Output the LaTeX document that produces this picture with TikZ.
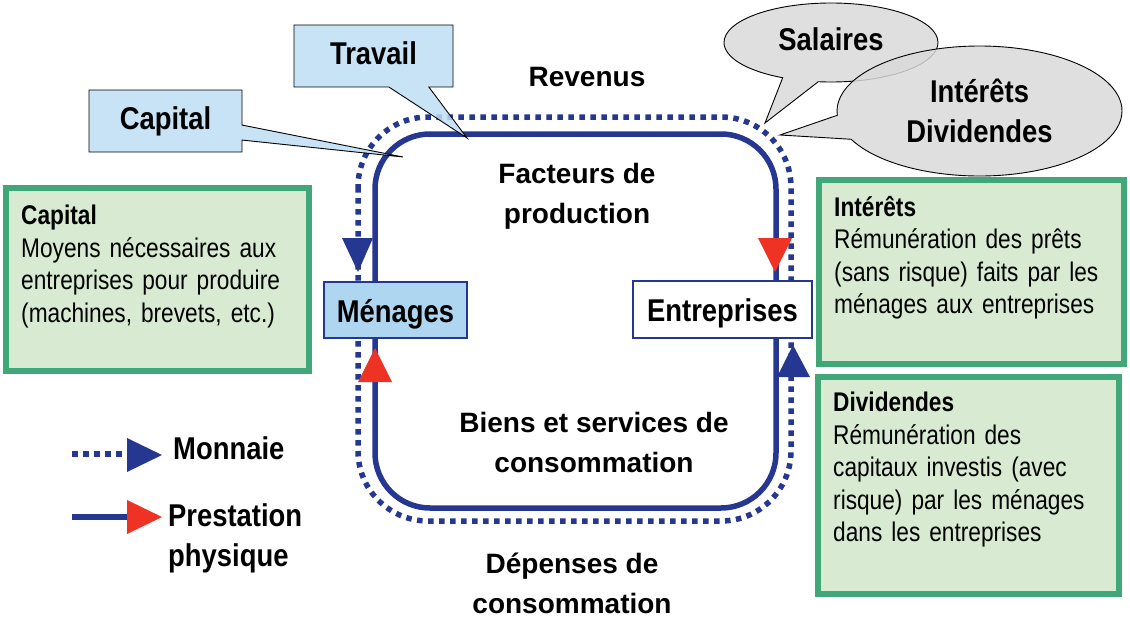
\documentclass[tikz,border=0pt]{standalone}
\usepackage{fontspec}
\setmainfont{Liberation Sans}
\newfontfamily\lblfont{Liberation Sans}[FakeStretch=0.87]
\newfontfamily\boxfont{Liberation Sans}[FakeStretch=0.84]
\usetikzlibrary{shapes.callouts,shapes.geometric,fit}
\definecolor{loopblue}{RGB}{38,55,145}
\definecolor{arrred}{RGB}{238,50,36}
\definecolor{callblue}{RGB}{190,222,244}
\definecolor{menblue}{RGB}{174,214,241}
\definecolor{bubgray}{RGB}{217,217,217}
\definecolor{gborder}{RGB}{64,168,120}
\definecolor{gfill}{RGB}{216,235,210}
\tikzset{
  loopsolid/.style={draw=loopblue, line width=5.5pt},
  loopdot/.style={draw=loopblue, line width=5.5pt, dash pattern=on 5.5pt off 5.5pt},
  bigbold/.style={font=\bfseries\fontsize{28}{40}\selectfont, inner sep=0pt, align=center},
  lbl/.style={font=\lblfont\bfseries\fontsize{31.5}{40.5}\selectfont, inner sep=0pt},
  callbox/.style={rectangle callout, draw=black, line width=0.9pt, fill=callblue,
    fill opacity=0.85, text opacity=1, lbl, text height=22pt, text depth=6pt},
  bubble/.style={ellipse callout, draw=black, line width=0.9pt, fill=bubgray,
    fill opacity=0.85, text opacity=1, lbl, align=center},
  actor/.style={rectangle, draw=loopblue, line width=1.2pt, lbl, text height=24pt, text depth=0pt},
  gbox/.style={draw=gborder, line width=6pt, fill=gfill, inner sep=0pt},
  gtext/.style={font=\boxfont\fontsize{27}{32.5}\selectfont, inner sep=0pt,
    text width=285pt, align=left, anchor=north west},
  bluehead/.style={fill=loopblue},
  redhead/.style={fill=arrred}
}
\begin{document}
\begin{tikzpicture}[x=1pt,y=-1pt]
\useasboundingbox (0,0) rectangle (1130,618);

% circuit loops
\draw[loopdot, rounded corners=70pt] (358,117) rectangle (791,521);
\draw[loopsolid, rounded corners=55pt] (375,134) rectangle (776,508);

% arrowheads on the loops
\fill[bluehead] (342,238) -- (373,238) -- (358,272) -- cycle;
\fill[redhead] (358,382) -- (392,382) -- (375,348) -- cycle;
\fill[redhead] (758,238) -- (792,238) -- (775,272) -- cycle;
\fill[bluehead] (777,377) -- (810,377) -- (793,345) -- cycle;

% actors
\node[actor, fill=menblue, minimum width=143pt, minimum height=56pt] (menages) at (395.5,310) {Ménages};
\node[actor, fill=white, minimum width=179pt, minimum height=57pt] (entreprises) at (722.5,309.5) {Entreprises};

% callouts
\node[callbox, minimum width=153pt, minimum height=62pt,
      callout absolute pointer={(403,157)}, callout pointer width=15pt] (capcall) at (165.5,121) {Capital};
\node[callbox, minimum width=159pt, minimum height=62pt,
      callout absolute pointer={(467,138)}, callout pointer width=40pt] (travcall) at (373.5,56) {Travail};
\node[bubble, minimum width=214pt, minimum height=79pt, text height=22pt, text depth=6pt,
      callout absolute pointer={(765,123)}, callout pointer arc=20] (salcall) at (831,42.5) {Salaires};
\node[bubble, minimum width=285pt, minimum height=130pt,
      callout absolute pointer={(780,135)}, callout pointer arc=22] (intcall) at (979.5,111) {Intérêts\\Dividendes};

% loop labels
\node[bigbold, anchor=north] (rev) at (587,67) {Revenus};
\node[bigbold, anchor=north] (fdp) at (577,163) {Facteurs de\\production};
\node[bigbold, anchor=north] (bsc) at (594,412) {Biens et services de\\consommation};
\node[bigbold, anchor=north] (ddc) at (572,553) {Dépenses de\\consommation};

% green boxes
\node[gbox, fit={(6,188) (309,371)}] (capbox) {};
\node[gtext] (captext) at (21,205) {\textbf{Capital}\\Moyens nécessaires aux\\entreprises pour produire\\(machines, brevets, etc.)};
\node[gbox, fit={(819,180) (1124,364)}] (intbox) {};
\node[gtext] (inttext) at (834,196) {\textbf{Intérêts}\\Rémunération des prêts\\(sans risque) faits par les\\ménages aux entreprises};
\node[gbox, fit={(818,377) (1119,594)}] (divbox) {};
\node[gtext] (divtext) at (833,392) {\textbf{Dividendes}\\Rémunération des\\capitaux investis (avec\\risque) par les ménages\\dans les entreprises};

% legend
\coordinate (lm0) at (72,454);
\coordinate (lm1) at (127,454);
\draw[loopdot] (lm0) -- (lm1);
\fill[bluehead] (127,438) -- (162,455) -- (127,472) -- cycle;
\coordinate (lp0) at (72,517);
\coordinate (lp1) at (127,517);
\draw[loopsolid] (lp0) -- (lp1);
\fill[redhead] (127,500) -- (162,517) -- (127,534) -- cycle;
\node[lbl, anchor=north west] (monn) at (173,436) {Monnaie};
\node[lbl, anchor=north west, align=left] (prest) at (168,503) {Prestation\\physique};
\end{tikzpicture}
\end{document}
